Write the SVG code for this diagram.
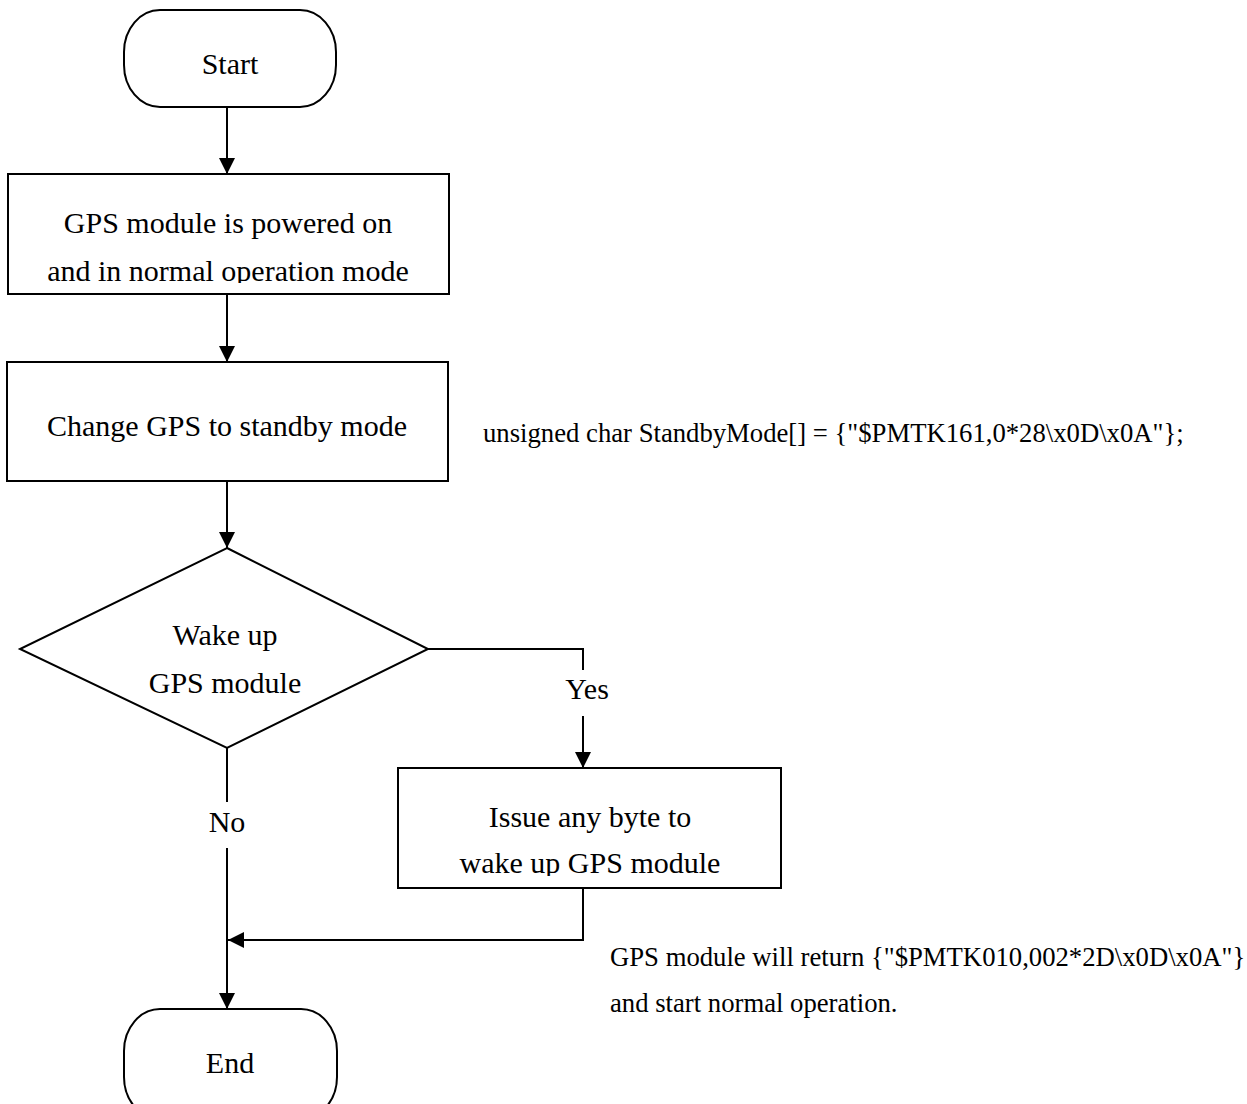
<svg xmlns="http://www.w3.org/2000/svg" width="1247" height="1104" viewBox="0 0 1247 1104">
<style>
.s{fill:#fff;stroke:#000;stroke-width:2}
.t{font-family:"Liberation Serif","Times New Roman",serif;font-size:30px;fill:#000;text-anchor:middle}
.n{font-family:"Liberation Serif","Times New Roman",serif;font-size:26.7px;fill:#000}
.c{fill:none;stroke:#000;stroke-width:2}
</style>
<defs>
<marker id="ah" viewBox="0 0 16 16" refX="16" refY="8" markerWidth="16" markerHeight="16" markerUnits="userSpaceOnUse" orient="auto">
<path d="M0,0 L16,8 L0,16 Z" fill="#000"/>
</marker>
<clipPath id="cp1"><rect x="8" y="174" width="441" height="109"/></clipPath>
<clipPath id="cp3"><rect x="398" y="768" width="383" height="108"/></clipPath>
</defs>
<rect width="1247" height="1104" fill="#fff"/>
<g id="connectors">
<line class="c" x1="227" y1="107" x2="227" y2="174" marker-end="url(#ah)"/>
<line class="c" x1="227" y1="294" x2="227" y2="362" marker-end="url(#ah)"/>
<line class="c" x1="227" y1="481" x2="227" y2="548" marker-end="url(#ah)"/>
<polyline class="c" points="428,649 583,649 583,670"/>
<line class="c" x1="583" y1="716" x2="583" y2="768" marker-end="url(#ah)"/>
<line class="c" x1="227" y1="748" x2="227" y2="802"/>
<line class="c" x1="227" y1="848" x2="227" y2="1009" marker-end="url(#ah)"/>
<polyline class="c" points="583,888 583,940 228,940" marker-end="url(#ah)"/>
<text class="t" x="587" y="699">Yes</text>
<text class="t" x="227" y="832">No</text>
</g>
<g id="start">
<rect class="s" x="124" y="10" width="212" height="97" rx="36" ry="42"/>
<text class="t" x="230" y="74">Start</text>
</g>
<g id="powered">
<rect class="s" x="8" y="174" width="441" height="120"/>
<g clip-path="url(#cp1)">
<text class="t" x="228" y="233">GPS module is powered on</text>
<text class="t" x="228" y="281">and in normal operation mode</text>
</g>
</g>
<g id="standby">
<rect class="s" x="7" y="362" width="441" height="119"/>
<text class="t" x="227" y="436">Change GPS to standby mode</text>
</g>
<g id="note1">
<text class="n" x="483" y="442">unsigned char StandbyMode[] = {"$PMTK161,0*28\x0D\x0A"};</text>
</g>
<g id="decision">
<polygon class="s" points="227,548 428,649 227,748 20,649"/>
<text class="t" x="225" y="645">Wake up</text>
<text class="t" x="225" y="693">GPS module</text>
</g>
<g id="issue">
<rect class="s" x="398" y="768" width="383" height="120"/>
<g clip-path="url(#cp3)">
<text class="t" x="590" y="827">Issue any byte to</text>
<text class="t" x="590" y="873">wake up GPS module</text>
</g>
</g>
<g id="note2">
<text class="n" x="610" y="966">GPS module will return {"$PMTK010,002*2D\x0D\x0A"}</text>
<text class="n" x="610" y="1012">and start normal operation.</text>
</g>
<g id="end">
<rect class="s" x="124" y="1009" width="213" height="110" rx="36" ry="42"/>
<text class="t" x="230" y="1073">End</text>
</g>
</svg>
